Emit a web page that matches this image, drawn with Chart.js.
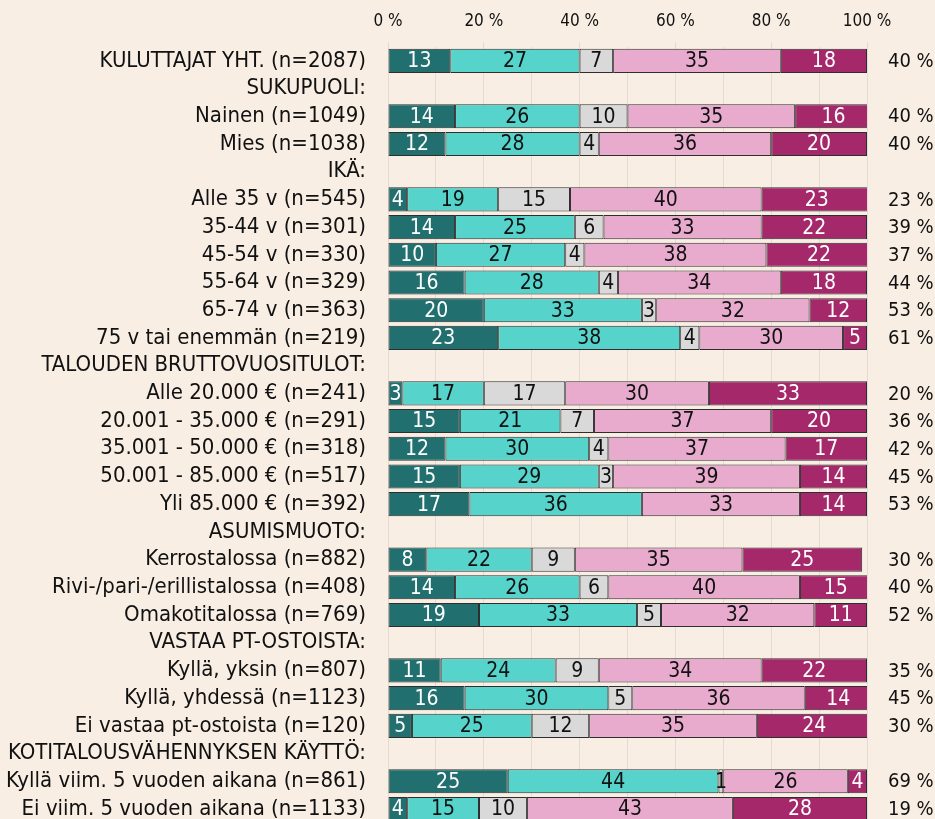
<!DOCTYPE html>
<html>
<head>
<meta charset="utf-8">
<script src="https://cdn.jsdelivr.net/npm/chart.js@4/dist/chart.umd.min.js"></script>
<style>
  html, body { margin: 0; padding: 0; background: #f8eee4; overflow: hidden; }
  canvas { display: block; }
</style>
</head>
<body>
<canvas id="chart" width="935" height="850"></canvas>
<script>
const categories = [
    'KULUTTAJAT YHT. (n=2087)',
    'SUKUPUOLI:',
    'Nainen (n=1049)',
    'Mies (n=1038)',
    'IKÄ:',
    'Alle 35 v (n=545)',
    '35-44 v (n=301)',
    '45-54 v (n=330)',
    '55-64 v (n=329)',
    '65-74 v (n=363)',
    '75 v tai enemmän (n=219)',
    'TALOUDEN BRUTTOVUOSITULOT:',
    'Alle 20.000 € (n=241)',
    '20.001 - 35.000 € (n=291)',
    '35.001 - 50.000 € (n=318)',
    '50.001 - 85.000 € (n=517)',
    'Yli 85.000 € (n=392)',
    'ASUMISMUOTO:',
    'Kerrostalossa (n=882)',
    'Rivi-/pari-/erillistalossa (n=408)',
    'Omakotitalossa (n=769)',
    'VASTAA PT-OSTOISTA:',
    'Kyllä, yksin (n=807)',
    'Kyllä, yhdessä (n=1123)',
    'Ei vastaa pt-ostoista (n=120)',
    'KOTITALOUSVÄHENNYKSEN KÄYTTÖ:',
    'Kyllä viim. 5 vuoden aikana (n=861)',
    'Ei viim. 5 vuoden aikana (n=1133)'
];

// segments left to right, null = header row
const seg1 = [13, null, 14, 12, null, 4, 14, 10, 16, 20, 23, null, 3, 15, 12, 15, 17, null, 8, 14, 19, null, 11, 16, 5, null, 25, 4];
const seg2 = [27, null, 26, 28, null, 19, 25, 27, 28, 33, 38, null, 17, 21, 30, 29, 36, null, 22, 26, 33, null, 24, 30, 25, null, 44, 15];
const seg3 = [7, null, 10, 4, null, 15, 6, 4, 4, 3, 4, null, 17, 7, 4, 3, 0, null, 9, 6, 5, null, 9, 5, 12, null, 1, 10];
const seg4 = [35, null, 35, 36, null, 40, 33, 38, 34, 32, 30, null, 30, 37, 37, 39, 33, null, 35, 40, 32, null, 34, 36, 35, null, 26, 43];
const seg5 = [18, null, 16, 20, null, 23, 22, 22, 18, 12, 5, null, 33, 20, 17, 14, 14, null, 25, 15, 11, null, 22, 14, 24, null, 4, 28];

// right-hand column
const sidePct = [40, null, 40, 40, null, 23, 39, 37, 44, 53, 61, null, 20, 36, 42, 45, 53, null, 30, 40, 52, null, 35, 45, 30, null, 69, 19];

const xTicks = [0, 20, 40, 60, 80, 100];

const FONT = '"DejaVu Sans Condensed", "Liberation Sans Narrow", sans-serif';
const colors = ['#21706f', '#56d4cc', '#d9d9d9', '#e9abcd', '#a5286b'];
const textColors = ['#ffffff', '#111111', '#111111', '#111111', '#ffffff'];
const gridColor = '#e3dcd4';

const segmentLabels = {
    id: 'segmentLabels',
    afterDatasetsDraw(chart) {
        const ctx = chart.ctx;
        ctx.save();
        ctx.font = '21px ' + FONT;
        ctx.textAlign = 'center';
        ctx.textBaseline = 'middle';
        chart.data.datasets.forEach((ds, i) => {
            chart.getDatasetMeta(i).data.forEach((bar, j) => {
                const v = ds.data[j];
                if (!v) return;
                ctx.fillStyle = textColors[i];
                ctx.fillText(String(v), (bar.x + bar.base) / 2, bar.y + 1);
            });
        });
        ctx.font = '20px ' + FONT;
        ctx.textAlign = 'left';
        ctx.fillStyle = '#111111';
        const y = chart.scales.y;
        sidePct.forEach((p, j) => {
            if (p == null) return;
            ctx.fillText(p + ' %', chart.chartArea.right + 21, y.getPixelForValue(j) + 1);
        });
        ctx.restore();
    }
};

const series = [seg1, seg2, seg3, seg4, seg5];

new Chart(document.getElementById('chart'), {
    type: 'bar',
    data: {
        labels: categories,
        datasets: series.map((s, i) => ({
            label: 'Osuus ' + (i + 1),
            data: s,
            backgroundColor: colors[i],
            borderColor: '#2e2e2e',
            borderWidth: 1,
            borderSkipped: false,
            barPercentage: 0.87,
            categoryPercentage: 1
        }))
    },
    options: {
        indexAxis: 'y',
        responsive: false,
        animation: false,
        layout: {
            padding: { left: 0, right: 68, top: 0, bottom: 9 }
        },
        plugins: {
            legend: { display: false },
            tooltip: { enabled: false }
        },
        scales: {
            x: {
                position: 'top',
                stacked: true,
                min: 0,
                max: 100,
                afterFit: function(scale) { scale.height = 47; },
                afterBuildTicks: function(scale) {
                    const t = [];
                    for (let v = 0; v <= 100; v += 10) t.push({ value: v });
                    scale.ticks = t;
                },
                border: { display: false },
                grid: {
                    color: gridColor,
                    lineWidth: 1,
                    tickLength: 5,
                    tickColor: function(ctx) {
                        return xTicks.includes(ctx.tick.value) ? gridColor : 'rgba(0,0,0,0)';
                    }
                },
                ticks: {
                    padding: 10,
                    color: '#111111',
                    font: { family: FONT, size: 17 },
                    maxRotation: 0,
                    autoSkip: false,
                    callback: function(value) {
                        return xTicks.includes(value) ? value + ' %' : '';
                    }
                }
            },
            y: {
                stacked: true,
                afterFit: function(scale) { scale.width = 388; },
                border: { display: false },
                grid: { display: false },
                ticks: {
                    padding: 14,
                    color: '#111111',
                    autoSkip: false,
                    font: { family: FONT, size: 22 }
                }
            }
        }
    },
    plugins: [segmentLabels]
});
</script>
</body>
</html>
